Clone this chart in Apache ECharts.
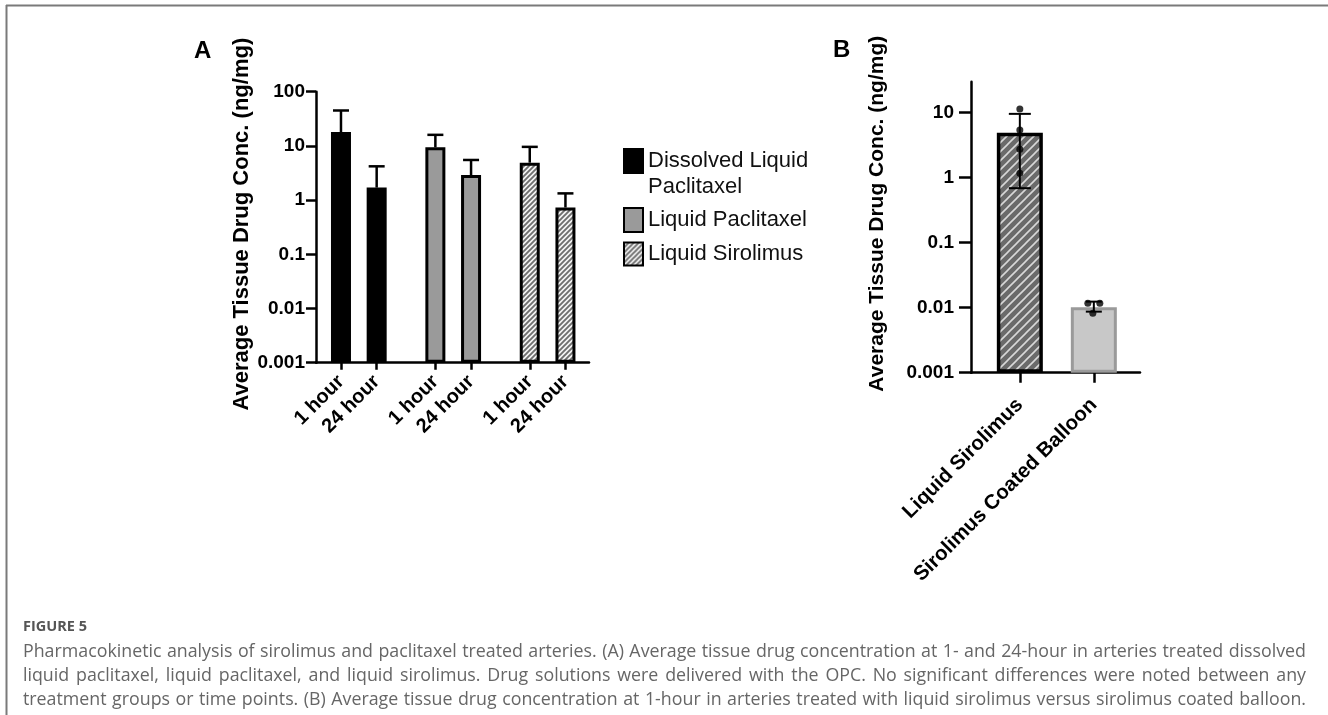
<!DOCTYPE html>
<html>
<head>
<meta charset="utf-8">
<script src="https://cdn.jsdelivr.net/npm/echarts/dist/echarts.min.js"></script>
<style>
html,body{margin:0;padding:0;background:#fff;}
#main{width:1328px;height:715px;}
</style>
</head>
<body>
<div id="main"></div>
<script>
// ---------------- DATA ----------------
const timeLabels = ['1 hour', '24 hour'];
const groupNames = ['Dissolved Liquid Paclitaxel', 'Liquid Paclitaxel', 'Liquid Sirolimus'];
const meanDissolved = [18, 1.7];
const upperDissolved = [45, 4.2];
const meanLiqPac = [9.4, 2.9];
const upperLiqPac = [16, 5.5];
const meanLiqSir = [4.9, 0.73];
const upperLiqSir = [9.6, 1.33];

const bCategories = ['Liquid Sirolimus', 'Sirolimus Coated Balloon'];
const bMeans = [4.9, 0.0102];
const bLower = [0.69, 0.0087];
const bUpper = [9.6, 0.0124];
const bPointsLiquid = [11.4, 5.4, 2.75, 1.17];
const bPointsBalloon = [0.0117, 0.0117, 0.0082];

const logTicksA = [0.001, 0.01, 0.1, 1, 10, 100];
const logTicksB = [0.001, 0.01, 0.1, 1, 10];

const captionHead = 'FIGURE 5';
const captionLines = [
  'Pharmacokinetic analysis of sirolimus and paclitaxel treated arteries. (A) Average tissue drug concentration at 1- and 24-hour in arteries treated dissolved',
  'liquid paclitaxel, liquid paclitaxel, and liquid sirolimus. Drug solutions were delivered with the OPC. No significant differences were noted between any',
  'treatment groups or time points. (B) Average tissue drug concentration at 1-hour in arteries treated with liquid sirolimus versus sirolimus coated balloon.'
];

// ---------------- LAYOUT / STYLE ----------------
const FONT = '"Liberation Sans", Arial, sans-serif';
const means = [meanDissolved, meanLiqPac, meanLiqSir];
const uppers = [upperDissolved, upperLiqPac, upperLiqSir];
function posA(g, t) { return 0.7 + g * 2.645 + t; }
function posB(i) { return 0.66 + i; }

function hatch(size, bg, fg, lw) {
  const c = document.createElement('canvas');
  c.width = size; c.height = size;
  const ctx = c.getContext('2d');
  ctx.fillStyle = bg; ctx.fillRect(0, 0, size, size);
  ctx.strokeStyle = fg; ctx.lineWidth = lw;
  ctx.beginPath();
  ctx.moveTo(-2, size + 2); ctx.lineTo(size + 2, -2);
  ctx.moveTo(-2, 2); ctx.lineTo(2, -2);
  ctx.moveTo(size - 2, size + 2); ctx.lineTo(size + 2, size - 2);
  ctx.stroke();
  return { image: c, repeat: 'repeat' };
}
const hatchA = hatch(5, '#f4f4f4', '#6e6e6e', 1.9);
const hatchB = hatch(9, '#6a6a6a', '#d8d8d8', 1.6);

const styleA = [
  { color: '#000000', borderColor: '#000000', borderWidth: 3 },
  { color: '#9a9a9a', borderColor: '#000000', borderWidth: 3 },
  { color: hatchA, borderColor: '#000000', borderWidth: 3 }
];

const tickPosA = [];
const tickLabA = [];
for (let g = 0; g < 3; g++) for (let t = 0; t < 2; t++) { tickPosA.push(posA(g, t)); tickLabA.push(timeLabels[t]); }
const tickPosB = bCategories.map((c, i) => posB(i));

function nearestLabel(v, pos, labs) {
  let best = 0;
  for (let i = 1; i < pos.length; i++) if (Math.abs(pos[i] - v) < Math.abs(pos[best] - v)) best = i;
  return labs[best];
}

function renderErrA(params, api) {
  const x = api.value(0);
  const base = api.coord([x, api.value(1)]);
  const top = api.coord([x, api.value(2)]);
  const hw = 8;
  const st = { stroke: '#000', lineWidth: 2.5 };
  return { type: 'group', children: [
    { type: 'line', shape: { x1: base[0], y1: base[1], x2: top[0], y2: top[1] }, style: st },
    { type: 'line', shape: { x1: top[0] - hw, y1: top[1], x2: top[0] + hw, y2: top[1] }, style: st }
  ]};
}
function renderErrB(params, api) {
  const x = api.value(0);
  const lo = api.coord([x, api.value(1)]);
  const hi = api.coord([x, api.value(2)]);
  const hw = params.dataIndex === 0 ? 11 : 8;
  const st = { stroke: '#000', lineWidth: 2 };
  return { type: 'group', children: [
    { type: 'line', shape: { x1: lo[0], y1: lo[1], x2: hi[0], y2: hi[1] }, style: st },
    { type: 'line', shape: { x1: hi[0] - hw, y1: hi[1], x2: hi[0] + hw, y2: hi[1] }, style: st },
    { type: 'line', shape: { x1: lo[0] - hw, y1: lo[1], x2: lo[0] + hw, y2: lo[1] }, style: st }
  ]};
}

// ---------------- SERIES ----------------
const series = [];
for (let g = 0; g < 3; g++) {
  series.push({
    type: 'bar', name: groupNames[g], xAxisIndex: 0, yAxisIndex: 0,
    barWidth: 20, barGap: '-100%',
    data: means[g].map((v, t) => [posA(g, t), v]),
    itemStyle: styleA[g], z: 2
  });
}
const errA = [];
for (let g = 0; g < 3; g++) for (let t = 0; t < 2; t++) errA.push([posA(g, t), means[g][t], uppers[g][t]]);
series.push({ type: 'custom', name: 'errA', xAxisIndex: 0, yAxisIndex: 0, renderItem: renderErrA,
  encode: { x: 0, y: [1, 2] }, data: errA, z: 5, silent: true });

series.push({
  type: 'bar', name: 'B bars', xAxisIndex: 1, yAxisIndex: 1, barWidth: 46, barGap: '-100%',
  data: [
    { value: [posB(0), bMeans[0]], itemStyle: { color: hatchB, borderColor: '#000', borderWidth: 3.5 } },
    { value: [posB(1), bMeans[1]], itemStyle: { color: '#c8c8c8', borderColor: '#9a9a9a', borderWidth: 3 } }
  ], z: 2
});
series.push({ type: 'custom', name: 'errB', xAxisIndex: 1, yAxisIndex: 1, renderItem: renderErrB,
  encode: { x: 0, y: [1, 2] }, data: bMeans.map((m, i) => [posB(i), bLower[i], bUpper[i]]), z: 5, silent: true });
const balloonJitter = [[-6, 0], [6, 0], [-1, 0]];
series.push({
  type: 'scatter', name: 'B points', xAxisIndex: 1, yAxisIndex: 1, symbol: 'circle', symbolSize: 7,
  itemStyle: { color: '#000' }, z: 6,
  data: bPointsLiquid.map(v => [posB(0), v]).concat(
    bPointsBalloon.map((v, i) => ({ value: [posB(1), v], symbolOffset: balloonJitter[i] })))
});

// ---------------- AXES ----------------
const axisLineStyle = { color: '#000', width: 2.5 };
const labelFont = { fontFamily: FONT, fontWeight: 'bold', color: '#000' };

const option = {
  animation: false,
  backgroundColor: '#ffffff',
  grid: [
    { left: 316, top: 91.7, width: 273, height: 271, outerBoundsMode: 'none', containLabel: false },
    { left: 971, top: 81.7, width: 169, height: 291, outerBoundsMode: 'none', containLabel: false }
  ],
  xAxis: [
    { type: 'value', gridIndex: 0, min: 0, max: 7.65, splitLine: { show: false },
      axisLine: { lineStyle: axisLineStyle },
      axisTick: { customValues: tickPosA, length: 7, lineStyle: { color: '#000', width: 2.5 } },
      axisLabel: { customValues: tickPosA, rotate: 45, margin: 16, fontSize: 20, ...labelFont,
        formatter: v => nearestLabel(v, tickPosA, tickLabA) } },
    { type: 'value', gridIndex: 1, min: 0, max: 2.284, splitLine: { show: false },
      axisLine: { lineStyle: axisLineStyle },
      axisTick: { customValues: tickPosB, length: 10, lineStyle: { color: '#000', width: 2.5 } },
      axisLabel: { customValues: tickPosB, rotate: 45, margin: 29, fontSize: 20.5, ...labelFont,
        formatter: v => nearestLabel(v, tickPosB, bCategories) } }
  ],
  yAxis: [
    { type: 'log', logBase: 10, gridIndex: 0, min: 0.001, max: 100, startValue: 0.001,
      splitLine: { show: false },
      axisLine: { show: true, lineStyle: axisLineStyle },
      axisTick: { show: true, customValues: logTicksA, length: 10, lineStyle: { color: '#000', width: 2.5 } },
      axisLabel: { customValues: logTicksA, margin: 11, fontSize: 19, ...labelFont, formatter: v => String(v) },
      name: 'Average Tissue Drug Conc. (ng/mg)', nameLocation: 'middle', nameGap: 63,
      nameTextStyle: { fontSize: 22, fontWeight: 'bold', fontFamily: FONT, color: '#000', padding: [0, 0, 0, 6] } },
    { type: 'log', logBase: 10, gridIndex: 1, min: 0.001, max: 30, startValue: 0.001,
      splitLine: { show: false },
      axisLine: { show: true, lineStyle: axisLineStyle },
      axisTick: { show: true, customValues: logTicksB, length: 12, lineStyle: { color: '#000', width: 2.5 } },
      axisLabel: { customValues: logTicksB, margin: 17, fontSize: 19, ...labelFont, formatter: v => String(v) },
      name: 'Average Tissue Drug Conc. (ng/mg)', nameLocation: 'middle', nameGap: 83,
      nameTextStyle: { fontSize: 21, fontWeight: 'bold', fontFamily: FONT, color: '#000', padding: [0, 0, 0, 27] } }
  ],
  legend: [
    { data: [groupNames[0]], left: 623, top: 122, orient: 'vertical', icon: 'rect', itemWidth: 19, itemHeight: 24,
      selectedMode: false, padding: 0, formatter: n => '\n' + n.replace('Liquid ', 'Liquid\n'),
      textStyle: { fontSize: 22, lineHeight: 26, color: '#111', fontFamily: FONT } },
    { data: [groupNames[1]], left: 623, top: 207, orient: 'vertical', icon: 'rect', itemWidth: 19, itemHeight: 24,
      selectedMode: false, padding: 0,
      textStyle: { fontSize: 22, lineHeight: 26, color: '#111', fontFamily: FONT } },
    { data: [groupNames[2]], left: 623, top: 241, orient: 'vertical', icon: 'rect', itemWidth: 19, itemHeight: 23,
      selectedMode: false, padding: 0,
      textStyle: { fontSize: 22, lineHeight: 26, color: '#111', fontFamily: FONT } }
  ],
  series: series,
  graphic: []
};

// ---------------- GRAPHIC: frame, panel letters, caption ----------------
const g = option.graphic;
g.push({ type: 'line', shape: { x1: 6, y1: 5.5, x2: 1328, y2: 5.5 }, style: { stroke: '#7a7a7a', lineWidth: 2 }, silent: true });
g.push({ type: 'line', shape: { x1: 6.5, y1: 5, x2: 6.5, y2: 715 }, style: { stroke: '#7a7a7a', lineWidth: 2 }, silent: true });
g.push({ type: 'text', left: 194, top: 39, style: { text: 'A', font: 'bold 24px ' + FONT, fill: '#000' } });
g.push({ type: 'text', left: 833, top: 38, style: { text: 'B', font: 'bold 24px ' + FONT, fill: '#000' } });
g.push({ type: 'text', left: 23, top: 619, style: { text: captionHead, font: 'bold 14.5px "Open Sans", sans-serif', fill: '#555555' } });

// caption: size the font so the widest line just fills the column, then justify
const capLeft = 23, capRight = 1306;
const mctx = document.createElement('canvas').getContext('2d');
mctx.font = '20px "Open Sans", sans-serif';
const maxNatural = Math.max(...captionLines.map(l => mctx.measureText(l).width));
const capSize = Math.min(19, 20 * (capRight - capLeft - 15) / maxNatural);
const capFont = capSize.toFixed(2) + 'px "Open Sans", sans-serif';
mctx.font = capFont;
captionLines.forEach((line, li) => {
  const words = line.split(' ');
  const widths = words.map(w => mctx.measureText(w).width);
  const total = widths.reduce((a, b) => a + b, 0);
  const gap = (capRight - capLeft - total) / (words.length - 1);
  let x = capLeft;
  const y = 652 + li * 24;
  words.forEach((w, i) => {
    g.push({ type: 'text', x: x, y: y, style: { text: w, font: capFont, fill: '#666666', verticalAlign: 'middle' }, silent: true });
    x += widths[i] + gap;
  });
});

const chart = echarts.init(document.getElementById('main'));
chart.setOption(option);
</script>
</body>
</html>
